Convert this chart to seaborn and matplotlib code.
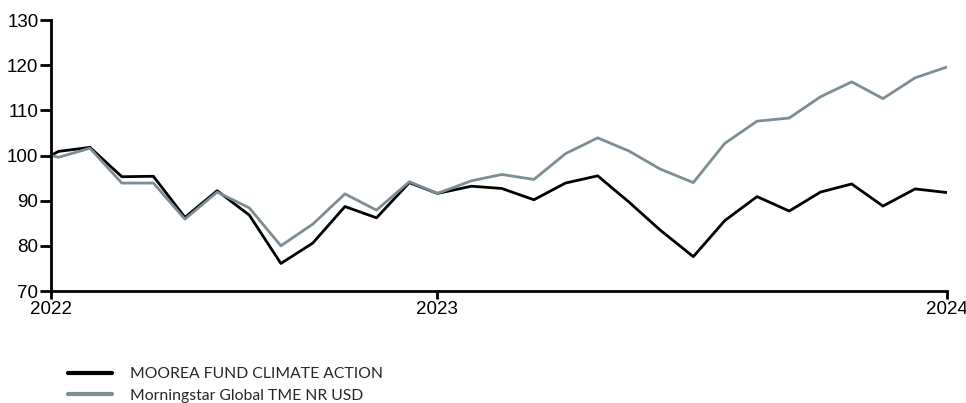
"""
Fund vs benchmark performance (rebased to 100), Jan 2022 - 2024
"""

import matplotlib
matplotlib.use("Agg")
import matplotlib.pyplot as plt
import pandas as pd
import seaborn as sns

# x positions in months since Jan 2022
months = [0, 0.23, 1.21, 2.20, 3.18, 4.16, 5.16, 6.16, 7.14, 8.13, 9.13, 10.11, 11.13,
          12.0, 13.06, 14.0, 15.0, 15.98, 16.98, 17.95, 18.92, 19.95, 20.93, 21.93,
          22.93, 23.9, 24.87, 25.84, 26.84, 27.83]

fund = [100.0, 100.9, 101.8, 95.3, 95.4, 86.3, 92.2, 86.8, 76.1, 80.6, 88.7, 86.2, 94.0,
        91.6, 93.2, 92.7, 90.2, 93.9, 95.5, 89.7, 83.5, 77.6, 85.6, 90.9, 87.7, 91.9,
        93.7, 88.8, 92.6, 91.8]

benchmark = [100.0, 99.6, 101.6, 93.9, 93.9, 85.9, 91.9, 88.4, 80.0, 84.8, 91.5, 87.9, 94.2,
             91.6, 94.4, 95.8, 94.7, 100.4, 103.9, 101.0, 97.0, 94.0, 102.7, 107.6, 108.3,
             113.0, 116.3, 112.6, 117.2, 119.6]

series_names = ["MOOREA FUND CLIMATE ACTION", "Morningstar Global TME NR USD"]
series_colors = ["#000000", "#7d8d94"]

xtick_pos = [0, 12.0, 27.83]
xtick_labels = ["2022", "2023", "2024"]
ytick_vals = [70, 80, 90, 100, 110, 120, 130]

df = pd.DataFrame({"month": months, series_names[0]: fund, series_names[1]: benchmark})
long_df = df.melt(id_vars="month", var_name="series", value_name="value")

sns.set_style("ticks")
plt.rcParams["font.family"] = ["Liberation Sans", "DejaVu Sans"]

W, H = 966, 403
fig = plt.figure(figsize=(W / 100, H / 100), dpi=100)
ax = fig.add_axes([51 / W, (H - 291) / H, (947 - 51) / W, (291 - 20) / H])

sns.lineplot(data=long_df, x="month", y="value", hue="series", hue_order=series_names,
             palette=series_colors, linewidth=2, ax=ax, legend=False)

ax.set_xlim(0, 27.83)
ax.set_ylim(70, 130)
ax.set_xticks(xtick_pos)
ax.set_xticklabels(xtick_labels)
ax.set_yticks(ytick_vals)
ax.set_xlabel("")
ax.set_ylabel("")
sns.despine(ax=ax)
for side in ["left", "bottom"]:
    ax.spines[side].set_linewidth(2)
    ax.spines[side].set_color("black")
ax.tick_params(axis="y", length=8, width=2, labelsize=13.5, pad=1, colors="black")
ax.tick_params(axis="x", length=6, width=2, labelsize=13.5, pad=1, colors="black")

# legend below the chart
handles = [plt.Line2D([], [], color=c, linewidth=3) for c in series_colors]
fs = 11.3
fs_px = fs * 100 / 72
fig.legend(handles, series_names, loc="upper left",
           bbox_to_anchor=(68 / W, 1 - 367 / H), frameon=False,
           borderpad=0, borderaxespad=0, prop={"family": "Lato", "size": fs},
           handlelength=44 / fs_px, handletextpad=18 / fs_px, labelspacing=0.5)

fig.savefig("out.png", dpi=100)
